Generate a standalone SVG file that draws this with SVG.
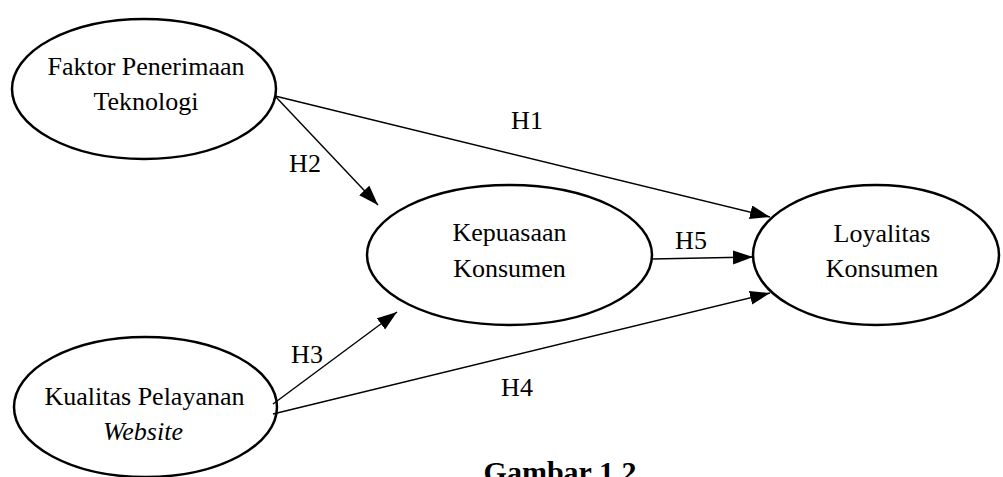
<svg xmlns="http://www.w3.org/2000/svg" width="1003" height="477" viewBox="0 0 1003 477">
<style>
.node{fill:#fff;stroke:#000;stroke-width:2.5}
.t{font-family:"Liberation Serif","Times New Roman",serif;font-size:26px;fill:#000;text-anchor:middle}
.e{stroke:#000;stroke-width:1.4;fill:none;marker-end:url(#ah)}
.cap{font-family:"Liberation Serif","Times New Roman",serif;font-size:30px;font-weight:bold;fill:#000;text-anchor:middle}
</style>
<defs>
<marker id="ah" markerUnits="userSpaceOnUse" markerWidth="20" markerHeight="16" refX="20" refY="7" orient="auto">
<path d="M0,0 L20,7 L0,14 Z" fill="#000"/>
</marker>
</defs>
<rect width="1003" height="477" fill="#fff"/>
<g id="n-faktor">
<ellipse class="node" cx="144" cy="89" rx="132" ry="70"/>
<text class="t" x="146" y="75">Faktor Penerimaan</text>
<text class="t" x="146" y="110">Teknologi</text>
</g>
<g id="n-kualitas">
<ellipse class="node" cx="145.5" cy="407" rx="131.5" ry="70"/>
<text class="t" x="144.5" y="405">Kualitas Pelayanan</text>
<text class="t" x="143" y="440" font-style="italic">Website</text>
</g>
<g id="n-kepuasaan">
<ellipse class="node" cx="509.5" cy="255" rx="142.5" ry="70"/>
<text class="t" x="509.5" y="241">Kepuasaan</text>
<text class="t" x="509.5" y="277">Konsumen</text>
</g>
<g id="n-loyalitas">
<ellipse class="node" cx="876" cy="255" rx="123" ry="70"/>
<text class="t" x="882" y="242">Loyalitas</text>
<text class="t" x="882" y="277">Konsumen</text>
</g>
<g id="connectors">
<line class="e" x1="275" y1="96" x2="770" y2="217"/>
<line class="e" x1="275" y1="96" x2="378" y2="205"/>
<line class="e" x1="273" y1="404" x2="397" y2="312"/>
<line class="e" x1="273" y1="414" x2="770" y2="293"/>
<line class="e" x1="652" y1="259" x2="753" y2="257"/>
<text class="t" x="527" y="129">H1</text>
<text class="t" x="305" y="172">H2</text>
<text class="t" x="307" y="363">H3</text>
<text class="t" x="517" y="396">H4</text>
<text class="t" x="691" y="249">H5</text>
</g>
<text class="cap" x="560" y="482">Gambar 1.2</text>
</svg>
